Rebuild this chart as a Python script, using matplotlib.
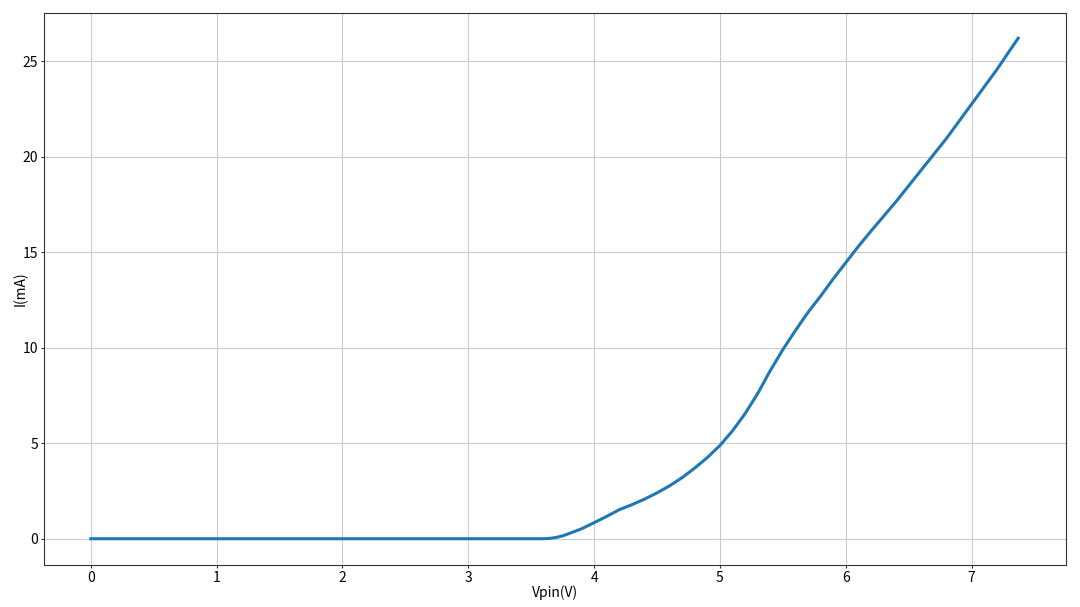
import matplotlib
matplotlib.use('Agg')
import matplotlib.pyplot as plt

plt.rcParams['font.family'] = ['Noto Sans CJK SC', 'DejaVu Sans']
plt.rcParams['axes.unicode_minus'] = False

# %% data
vpin = [0.0, 0.5, 1.0, 1.5, 2.0, 2.5, 3.0, 3.5, 3.6, 3.65, 3.7, 3.75, 3.8, 3.9,
        4.0, 4.1, 4.2, 4.3, 4.4, 4.5, 4.6, 4.7, 4.8, 4.9, 5.0, 5.1, 5.2,
        5.3, 5.4, 5.5, 5.6, 5.7, 5.8, 5.9, 6.0, 6.1, 6.2, 6.4, 6.6, 6.8, 7.0, 7.2, 7.37]
current = [0.0, 0.0, 0.0, 0.0, 0.0, 0.0, 0.0, 0.0, 0.0, 0.02, 0.07, 0.15, 0.27, 0.52,
           0.84, 1.17, 1.52, 1.78, 2.07, 2.4, 2.77, 3.2, 3.7, 4.25, 4.88, 5.65, 6.55,
           7.6, 8.8, 9.9, 10.9, 11.85, 12.7, 13.6, 14.45, 15.3, 16.1, 17.65, 19.3, 20.95,
           22.75, 24.55, 26.2]

# %% plot
fig, ax = plt.subplots(figsize=(10.8, 6.07), dpi=100)
fig.subplots_adjust(left=0.041, right=0.987, top=0.978, bottom=0.07)
ax.plot(vpin, current, color='#1f77b4', linewidth=2.2)
ax.grid(True, color='#cccccc', linewidth=0.8)
for s in ax.spines.values():
    s.set_color('#333333')
ax.set_xlabel('Vpin(V)', fontsize=10, labelpad=0)
ax.set_ylabel('I(mA)', fontsize=10, labelpad=-4)
ax.tick_params(labelsize=10, length=2.5, pad=2, color='#333333')
ax.set_xticks(range(0, 8))
ax.set_yticks(range(0, 30, 5))
ax.set_xlim(-0.37, 7.75)
ax.set_ylim(-1.35, 27.5)
fig.savefig('out.png', dpi=100)
